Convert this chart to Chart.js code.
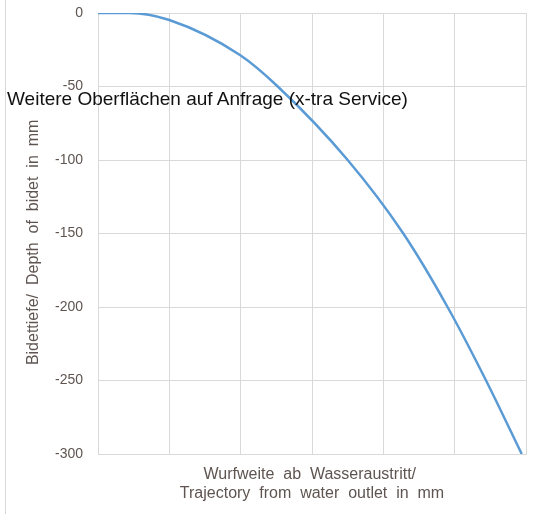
<!DOCTYPE html>
<html>
<head>
<meta charset="utf-8">
<script src="https://cdn.jsdelivr.net/npm/chart.js@4.4.1/dist/chart.umd.min.js"></script>
<style>
    html, body { margin: 0; padding: 0; background: #fff; }
    #wrap { position: relative; width: 552px; height: 514px; }
    #edge { position: absolute; left: 5px; top: 0; width: 1px; height: 514px; background: #d9d9d9; }
    #note {
        position: absolute; left: 7px; top: 88px;
        font-family: 'Liberation Sans', Arial, sans-serif; font-size: 19px; color: #111;
        white-space: nowrap; pointer-events: none;
    }
</style>
</head>
<body>
<div id="wrap">
    <div id="edge"></div>
    <canvas id="chart-trajectory" width="552" height="514"></canvas>
    <div id="note">Weitere Oberflächen auf Anfrage (x-tra Service)</div>
</div>
<script>
'use strict';

/* ── Data ────────────────────────────────────────────────────── */
const trajectoryX = [0, 22, 50, 99.5, 126, 175, 214, 245, 272, 297];
const depthY = [0, 0, -4.8, -28.6, -50, -100, -150, -200, -250, -300];
const yTitle = 'Bidettiefe/  Depth  of  bidet  in  mm    ';
const xTitle = ['Wurfweite  ab  Wasseraustritt/ ', 'Trajectory  from  water  outlet  in  mm'];

const TEXT = '#5f5550';
const GRID = '#d9d9d9';
const LINE = '#5b9bd5';
const FONT = "'Liberation Sans', Arial, sans-serif";

const points = trajectoryX.map((x, i) => ({ x, y: depthY[i] }));

const config = {
    type: 'line',
    data: {
        datasets: [{
            data: points,
            borderColor: LINE,
            borderWidth: 2.5,
            pointRadius: 0,
            fill: false,
            cubicInterpolationMode: 'monotone',
        }]
    },
    options: {
        responsive: false, animation: false,
        layout: { padding: { top: 13, right: 26, left: 0, bottom: 0 } },
        scales: {
            x: {
                type: 'linear', min: 0, max: 300,
                ticks: { display: false, stepSize: 50 },
                grid: { color: GRID, lineWidth: 1, drawTicks: false },
                border: { color: GRID },
                title: {
                    display: true, text: xTitle, color: TEXT,
                    font: { family: FONT, size: 16 },
                    lineHeight: 1.45, padding: { top: 8, bottom: 11 }
                },
                afterFit: s => { s.height = 60; }
            },
            y: {
                min: -300, max: 0,
                ticks: {
                    stepSize: 50, color: TEXT, padding: 0,
                    font: { family: FONT, size: 14 }
                },
                grid: { color: GRID, lineWidth: 1, drawTicks: true, tickLength: 15, tickColor: 'rgba(0,0,0,0)' },
                border: { color: GRID },
                title: {
                    display: true, text: yTitle, color: TEXT,
                    font: { family: FONT, size: 16 },
                    padding: { top: 24, bottom: 0 }
                },
                afterFit: s => { s.width = 98; }
            }
        },
        plugins: {
            legend: { display: false },
            tooltip: { enabled: false }
        }
    }
};

new Chart(document.getElementById('chart-trajectory'), config);
</script>
</body>
</html>
